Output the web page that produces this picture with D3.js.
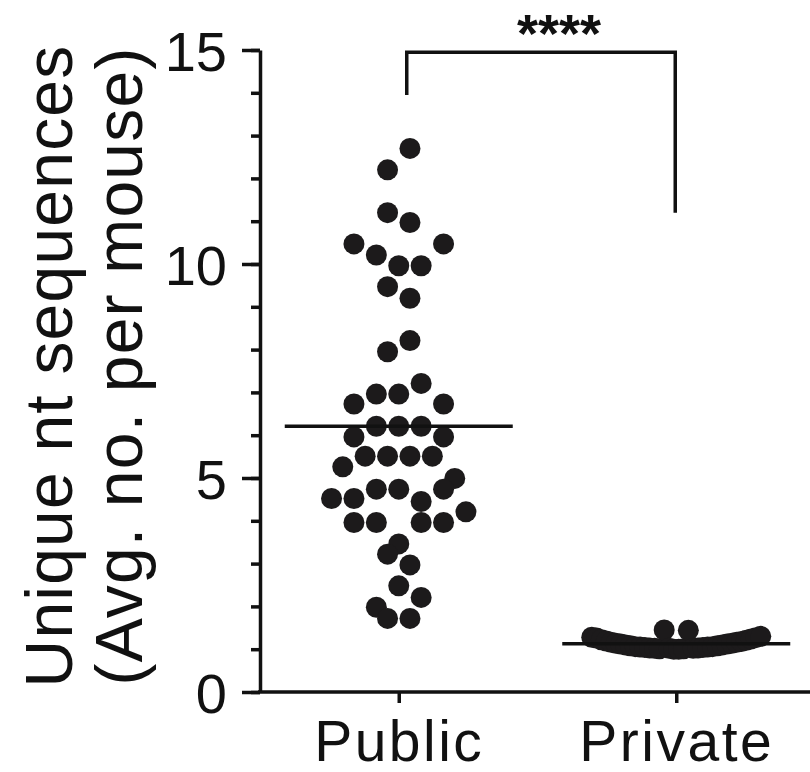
<!DOCTYPE html>
<html>
<head>
<meta charset="utf-8">
<script src="https://cdn.jsdelivr.net/npm/d3@7"></script>
<style>
  body { margin: 0; background: #fff; }
  svg { display: block; font-family: "Liberation Sans", Arial, sans-serif; }
</style>
</head>
<body>
<div class="canvas"></div>
<script>
// groups on the x axis
const groups = ["Public", "Private"];

// avg no. of unique nt sequences per mouse
// (order inside a row of the swarm = order here)
const publicValues = [
  12.2, 12.7,
  11.2, 10.97,
  10.47, 10.21, 9.96, 9.96, 10.47,
  9.47, 9.2,
  7.95, 8.21,
  6.73, 6.96, 6.96, 7.21, 6.73,
  5.96, 6.21, 6.21, 6.21, 5.96,
  5.26, 5.51, 5.51, 5.51, 5.51, 4.99,
  4.52, 4.52, 4.74, 4.74, 4.45, 4.74, 4.21,
  3.96, 3.96, 3.46, 3.96, 3.96,
  3.22, 2.97,
  1.98, 2.48, 2.21,
  1.72, 1.72
];

const privateValues = [
  1.28, 1.26, 1.22, 1.19, 1.16, 1.14, 1.12, 1.10, 1.08, 1.06, 1.05, 1.04,
  1.03, 1.02, 1.01, 1.45, 1.02, 1.00,
  1.00, 1.01, 1.44, 1.02, 1.03, 1.04, 1.05, 1.06, 1.08, 1.10, 1.12, 1.14,
  1.16, 1.18, 1.21, 1.24, 1.27, 1.30
];

const yMajorTicks = [0, 5, 10, 15];
const yMinorTicks = d3.range(0, 16);
const yTitle = ["Unique nt sequences", "(Avg. no. per mouse)"];
const significance = "****";

const width = 810, height = 772;
const r = 10.5;

const svg = d3.select(".canvas").append("svg")
    .attr("width", width)
    .attr("height", height);

const x = d3.scalePoint()
    .domain(groups)
    .range([260, 815])
    .padding(0.5);

const y = d3.scaleLinear()
    .domain([0, 15])
    .range([692, 50]);

// Prism-like swarm: rows of close values, spread symmetric round the centre
function swarm(values, cx) {
  const order = values.map((v, i) => i)
      .sort((a, b) => values[b] - values[a] || a - b);
  const rows = [];
  let top = null;
  order.forEach(i => {
    if (top === null || top - values[i] >= 0.55) {
      rows.push([]);
      top = values[i];
    }
    rows[rows.length - 1].push(i);
  });
  const pts = [];
  rows.forEach(row => {
    row.sort((a, b) => a - b);
    const n = row.length;
    const step = n > 1 ? Math.min(22.4, 169 / (n - 1)) : 0;
    row.forEach((i, k) => {
      pts.push({value: values[i], cx: cx + (k - (n - 1) / 2) * step});
    });
  });
  return pts;
}

const series = [
  {name: "Public", values: publicValues},
  {name: "Private", values: privateValues}
];

series.forEach(s => {
  const cx = x(s.name);
  svg.append("g")
    .selectAll("circle")
    .data(swarm(s.values, cx))
    .enter().append("circle")
      .attr("cx", d => d.cx)
      .attr("cy", d => y(d.value))
      .attr("r", r)
      .attr("fill", "#1c1a1b");

  const m = d3.mean(s.values);
  svg.append("line")
    .attr("x1", cx - 114).attr("x2", cx + 114)
    .attr("y1", y(m)).attr("y2", y(m))
    .attr("stroke", "#111")
    .attr("stroke-width", 3.5);
});

// y axis: minor ticks then major ticks with labels
svg.append("g")
    .attr("transform", "translate(260,0)")
    .call(d3.axisLeft(y).tickValues(yMinorTicks).tickSize(9).tickFormat(""))
    .call(g => g.select(".domain").remove())
    .selectAll("line").attr("stroke", "#111").attr("stroke-width", 3.5);

const yAxis = svg.append("g")
    .attr("transform", "translate(260,0)")
    .call(d3.axisLeft(y).tickValues(yMajorTicks).tickSize(18).tickSizeOuter(0).tickPadding(15));
yAxis.select(".domain").attr("stroke", "#111").attr("stroke-width", 3.5);
yAxis.selectAll("line").attr("stroke", "#111").attr("stroke-width", 3.5);
yAxis.selectAll("text")
    .attr("font-size", 56)
    .attr("font-family", "'Liberation Sans', Arial, sans-serif")
    .attr("fill", "#111")
    .attr("dy", "0.36em");

// x axis
const xAxis = svg.append("g")
    .attr("transform", "translate(0,692)")
    .call(d3.axisBottom(x).tickSize(11).tickSizeOuter(0).tickPadding(18));
xAxis.select(".domain").attr("stroke", "#111").attr("stroke-width", 3.5)
    .attr("d", "M258,0H815");
xAxis.selectAll("line").attr("stroke", "#111").attr("stroke-width", 3.5);
xAxis.selectAll("text")
    .attr("font-size", 57)
    .attr("letter-spacing", "2.5px")
    .attr("font-family", "'Liberation Sans', Arial, sans-serif")
    .attr("fill", "#111")
    .attr("dy", "0.71em");

// y title, two lines
svg.append("g")
  .selectAll("text")
  .data(yTitle)
  .enter().append("text")
    .attr("transform", (d, i) => `translate(${72 + i * 70},366) rotate(-90)`)
    .attr("text-anchor", "middle")
    .attr("font-size", 66)
    .attr("letter-spacing", "1.2px")
    .attr("fill", "#111")
    .text(d => d);

// significance bracket
const bx1 = x("Public") + 8, bx2 = x("Private") - 1;
svg.append("path")
    .attr("d", `M${bx1},${y(13.95)}V${y(14.95)}H${bx2}V${y(11.2)}`)
    .attr("fill", "none")
    .attr("stroke", "#111")
    .attr("stroke-width", 3.5);

svg.append("text")
    .attr("x", (bx1 + bx2) / 2 + 18)
    .attr("y", 52)
    .attr("text-anchor", "middle")
    .attr("font-size", 54)
    .attr("font-weight", "bold")
    .attr("fill", "#111")
    .text(significance);
</script>
</body>
</html>
